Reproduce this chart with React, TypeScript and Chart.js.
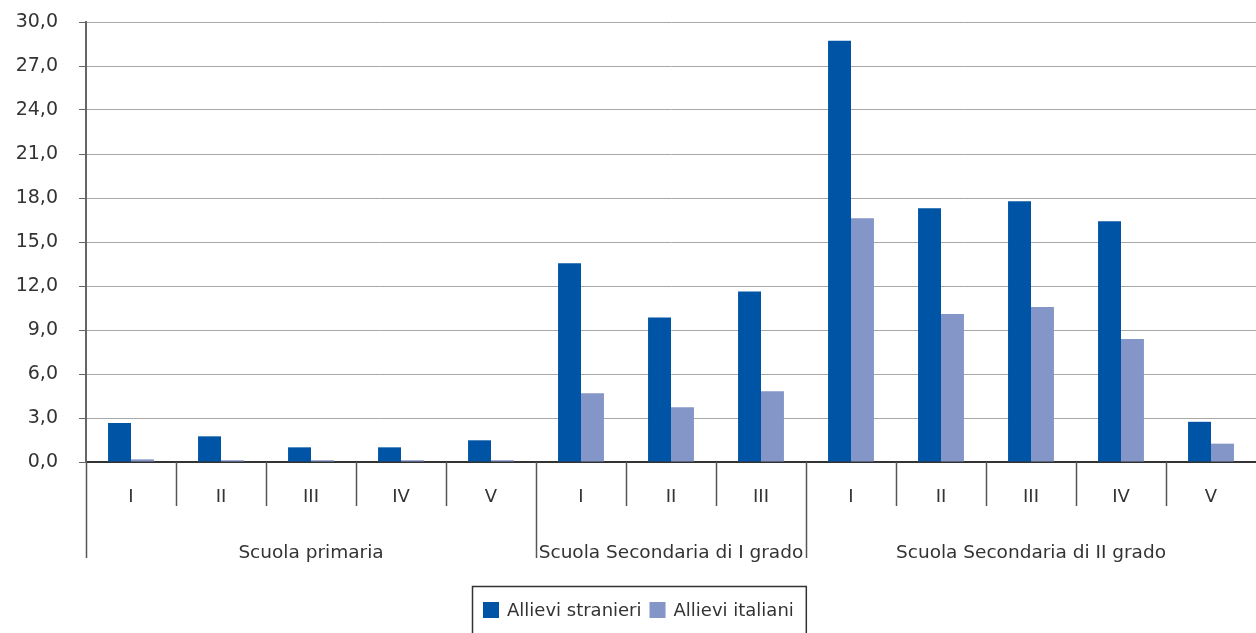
import { useEffect, useRef } from "react";
import { Chart, registerables } from "chart.js";

Chart.register(...registerables);

const categories = ["I", "II", "III", "IV", "V", "I", "II", "III", "I", "II", "III", "IV", "V"];
const groupLabels = ["Scuola primaria", "Scuola Secondaria di I grado", "Scuola Secondaria di II grado"];
const groupSizes = [5, 3, 5];
const seriesNames = ["Allievi stranieri", "Allievi italiani"];
const stranieri = [2.66, 1.75, 1.0, 1.0, 1.48, 13.55, 9.86, 11.63, 28.73, 17.3, 17.78, 16.42, 2.74];
const italiani = [0.18, 0.12, 0.12, 0.12, 0.12, 4.68, 3.73, 4.82, 16.62, 10.09, 10.57, 8.39, 1.25];
const yMin = 0;
const yMax = 30;
const yStep = 3;

const BLUE = "#0054a5";
const LIGHT = "#8495c8";
const TEXT = "#333333";
const FONT = '"DejaVu Sans", sans-serif';

const groupAxisPlugin = {
  id: "groupAxis",
  afterDraw(chart: any) {
    const ctx = chart.ctx as CanvasRenderingContext2D;
    const x = chart.scales.x;
    const area = chart.chartArea;
    const step = x.getPixelForValue(1) - x.getPixelForValue(0);
    const half = step / 2;
    const starts: number[] = [];
    let acc = 0;
    for (const s of groupSizes) {
      starts.push(acc);
      acc += s;
    }
    ctx.save();
    ctx.strokeStyle = "#555555";
    ctx.lineWidth = 1.5;
    for (let i = 0; i < categories.length; i++) {
      const px = Math.round(x.getPixelForValue(i) - half) + 0.5;
      const isGroup = starts.includes(i);
      ctx.beginPath();
      ctx.moveTo(px, area.bottom);
      ctx.lineTo(px, area.bottom + (isGroup ? 96 : 44));
      ctx.stroke();
    }
    ctx.fillStyle = TEXT;
    ctx.font = `18.5px ${FONT}`;
    ctx.textAlign = "center";
    ctx.textBaseline = "middle";
    groupLabels.forEach((g, gi) => {
      const a = x.getPixelForValue(starts[gi]) - half;
      const b = x.getPixelForValue(starts[gi] + groupSizes[gi] - 1) + half;
      ctx.fillText(g, (a + b) / 2, area.bottom + 91);
    });

    // legend
    ctx.font = `18px ${FONT}`;
    ctx.textAlign = "left";
    const sw = 16;
    const gap = 8;
    const yc = 610;
    let cx = 483;
    const left = cx - 11;
    const colors = chart.data.datasets.map((d: any) => d.backgroundColor);
    chart.data.datasets.forEach((d: any, i: number) => {
      ctx.fillStyle = colors[i];
      ctx.fillRect(cx, yc - sw / 2, sw, sw);
      cx += sw + gap;
      ctx.fillStyle = TEXT;
      ctx.fillText(d.label, cx, yc + 1);
      cx += ctx.measureText(d.label).width + gap;
    });
    const right = cx + 4;
    ctx.strokeStyle = "#333333";
    ctx.lineWidth = 1.5;
    ctx.strokeRect(left + 0.5, 586.5, right - left, 60);
    ctx.restore();
  },
};

export default function App() {
  const ref = useRef<HTMLCanvasElement | null>(null);
  useEffect(() => {
    document.body.style.margin = "0";
    const canvas = ref.current!;
    const chart = new Chart(canvas, {
      type: "bar",
      data: {
        labels: categories,
        datasets: [
          { label: seriesNames[0], data: stranieri, backgroundColor: BLUE, borderWidth: 0 },
          { label: seriesNames[1], data: italiani, backgroundColor: LIGHT, borderWidth: 0 },
        ],
      },
      options: {
        responsive: false,
        animation: false,
        devicePixelRatio: 1,
        layout: { padding: { top: 22, right: 0, left: 0, bottom: 0 } },
        plugins: {
          legend: { display: false },
          tooltip: { enabled: false },
        },
        datasets: {
          bar: { categoryPercentage: 0.51, barPercentage: 1 },
        },
        scales: {
          x: {
            offset: true,
            grid: { display: false, drawTicks: false },
            border: { display: true, color: "#333333", width: 2 },
            ticks: {
              padding: 25,
              color: TEXT,
              font: { family: FONT, size: 18 },
              maxRotation: 0,
              autoSkip: false,
            },
            afterFit: (s: any) => {
              s.height = 171;
            },
          },
          y: {
            min: yMin,
            max: yMax,
            ticks: {
              stepSize: yStep,
              padding: 21,
              color: TEXT,
              font: { family: FONT, size: 19 },
              callback: (v: any) => Number(v).toFixed(1).replace(".", ","),
            },
            grid: {
              color: "#a8a8a8",
              lineWidth: 1,
              tickLength: 7,
              tickColor: "#666666",
            },
            border: { display: true, color: "#666666", width: 2 },
            afterFit: (s: any) => {
              s.width = 86;
              s.paddingTop = 0;
              s.paddingBottom = 0;
            },
          },
        },
      },
      plugins: [groupAxisPlugin],
    });
    return () => chart.destroy();
  }, []);
  return (
    <div style={{ width: 1256, height: 633 }}>
      <canvas ref={ref} width={1256} height={633} style={{ display: "block", width: 1256, height: 633 }} />
    </div>
  );
}
